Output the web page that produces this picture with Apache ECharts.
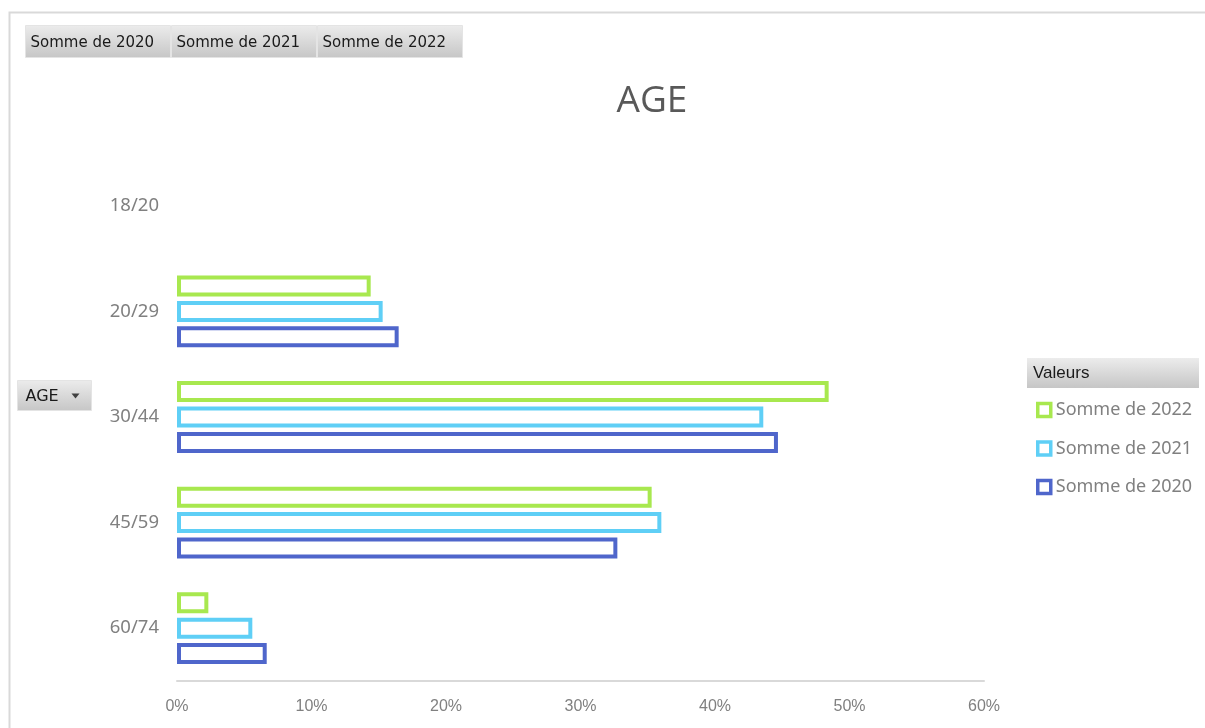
<!DOCTYPE html>
<html><head><meta charset="utf-8">
<script src="https://cdn.jsdelivr.net/npm/echarts@6/dist/echarts.min.js"></script>
<style>html,body{margin:0;padding:0;background:#fff}#c{width:1205px;height:728px}</style>
</head><body><div id="c"></div>
<script>
const categories = ['18/20','20/29','30/44','45/59','60/74'];
const v2020 = [null, 0.1648, 0.4468, 0.3274, 0.0667];
const v2021 = [null, 0.1529, 0.4359, 0.3601, 0.0560];
const v2022 = [null, 0.1440, 0.4845, 0.3529, 0.0233];
const xTicks = ['0%','10%','20%','30%','40%','50%','60%'];
const seriesNames = ['Somme de 2020','Somme de 2021','Somme de 2022'];
const colors = {'Somme de 2020':'#4f66cb','Somme de 2021':'#5fcff6','Somme de 2022':'#a8e84f'};

const chart = echarts.init(document.getElementById('c'));
const grad = {type:'linear',x:0,y:0,x2:0,y2:1,colorStops:[{offset:0,color:'#ececec'},{offset:1,color:'#c6c6c6'}]};
function btn(x,y,w,h,text,fs){
  return {type:'group',left:x,top:y,children:[
    {type:'rect',shape:{x:0,y:0,width:w,height:h},style:{fill:grad,stroke:'#e4e4e4',lineWidth:1}},
    {type:'text',left:5,top:(h-fs)/2+2,style:{text:text,font:fs+'px "DejaVu Sans"',fill:'#1a1a1a'}}
  ]};
}
const mkSeries = (name, data) => ({
  name, type:'bar', data, barWidth:21, barGap:'21%',
  itemStyle:{color:'#ffffff', borderColor:colors[name], borderWidth:4},
  emphasis:{disabled:true}, silent:true
});
chart.setOption({
  animation:false,
  title:{text:'AGE',left:647,top:78,textAlign:'center',
    textStyle:{fontSize:37,fontWeight:'normal',color:'#595959',fontFamily:'Open Sans'}},
  grid:{left:177,right:221,top:153,bottom:47},
  xAxis:{type:'value',min:0,max:0.6,interval:0.1,
    axisLine:{show:true,lineStyle:{color:'#d9d9d9',width:2}},
    axisTick:{show:false},splitLine:{show:false},
    axisLabel:{margin:18,color:'#808080',fontSize:16,fontFamily:'Liberation Sans',
      formatter:(v)=>xTicks[Math.round(v*10)]}},
  yAxis:{type:'category',data:categories,inverse:true,
    axisLine:{show:false},axisTick:{show:false},
    axisLabel:{margin:18,color:'#808080',fontSize:18.5,fontFamily:'Noto Sans'}},
  legend:{orient:'vertical',left:1031,top:393,itemWidth:13,itemHeight:13,itemGap:14.5,
    icon:'rect',
    textStyle:{color:'#808080',fontSize:18,fontFamily:'Noto Sans',lineHeight:24,padding:[0,0,0,0]},
    data:['Somme de 2022','Somme de 2021','Somme de 2020'].map(n=>({name:n,
      itemStyle:{color:'#ffffff',borderColor:colors[n],borderWidth:3.5}}))},
  graphic:[
    {type:'rect',left:7,top:10,shape:{x:0,y:0,width:1210,height:730},style:{fill:'none',stroke:'#d9d9d9',lineWidth:2},silent:true},
    btn(25,25,145,32,'Somme de 2020',15),
    btn(171,25,145,32,'Somme de 2021',15),
    btn(317,25,145,32,'Somme de 2022',15),
    {type:'group',left:17,top:380,children:[
      {type:'rect',shape:{x:0,y:0,width:74,height:30},style:{fill:grad,stroke:'#e4e4e4',lineWidth:1}},
      {type:'text',left:8,top:8,style:{text:'AGE',font:'16px "DejaVu Sans"',fill:'#1a1a1a'}},
      {type:'polygon',shape:{points:[[54,13],[62,13],[58,18]]},style:{fill:'#404040'}}
    ]},
    {type:'group',left:1027,top:358,children:[
      {type:'rect',shape:{x:0,y:0,width:172,height:30},style:{fill:grad}},
      {type:'text',left:6,top:7,style:{text:'Valeurs',font:'17px "Liberation Sans"',fill:'#1a1a1a'}}
    ]}
  ],
  series:[mkSeries(seriesNames[2],v2022),mkSeries(seriesNames[1],v2021),mkSeries(seriesNames[0],v2020)]
});
</script></body></html>
